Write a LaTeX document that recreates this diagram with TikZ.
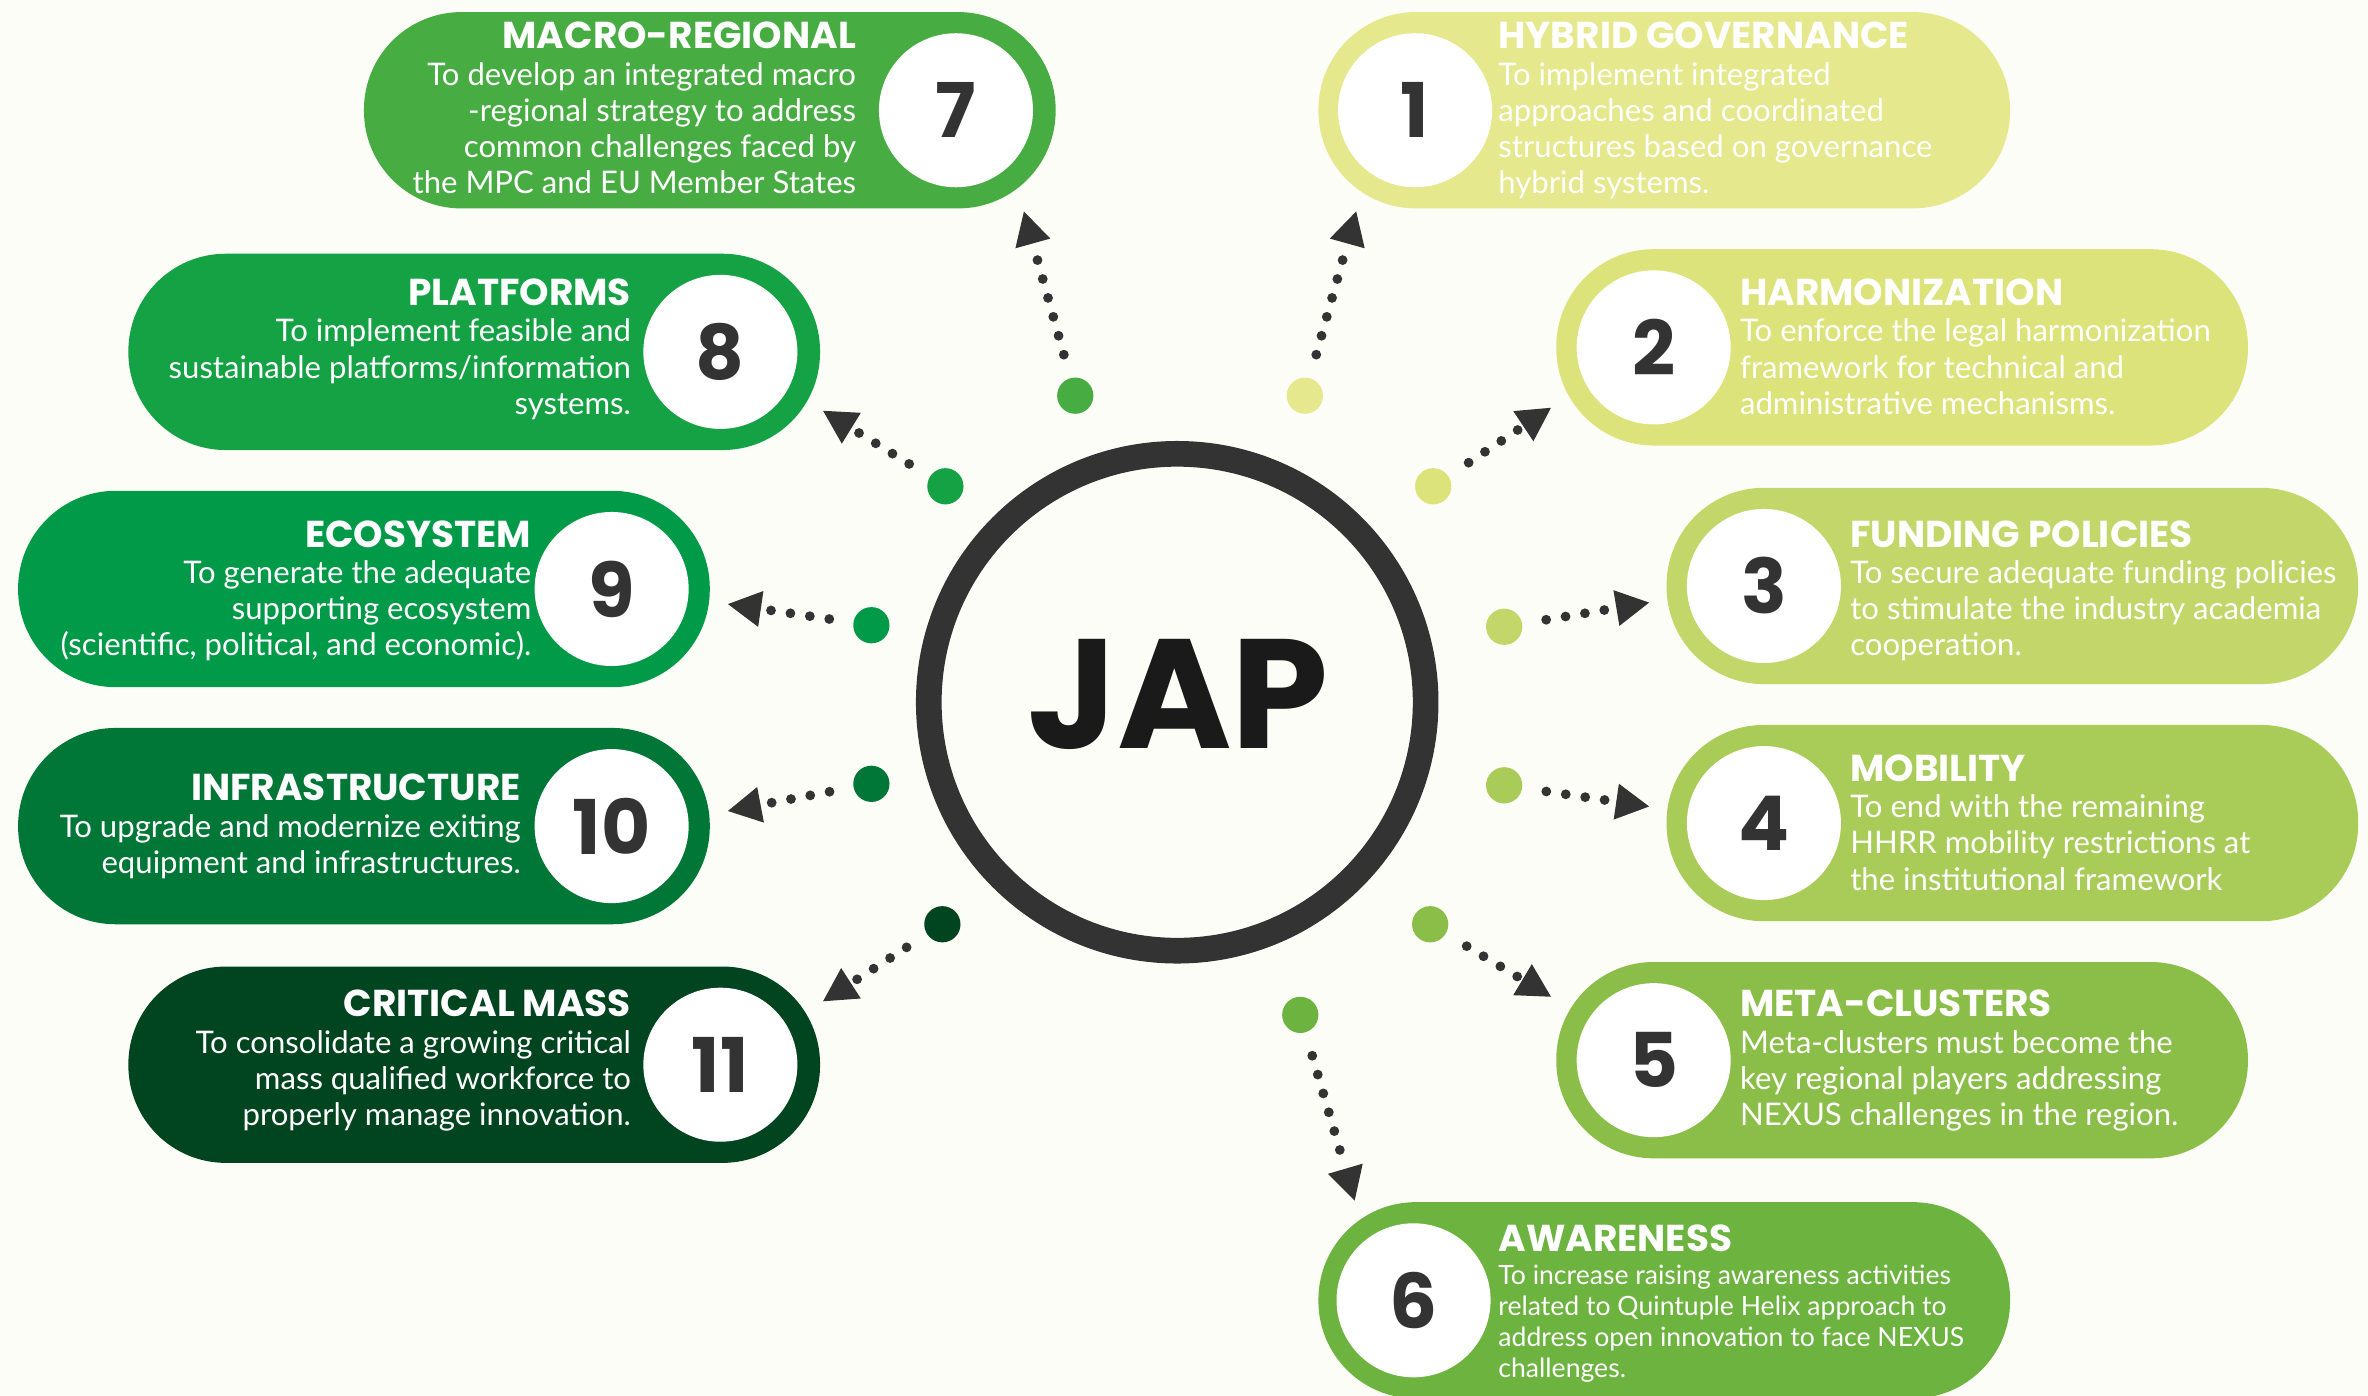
\documentclass[tikz,border=0pt]{standalone}
\usepackage{fontspec}
\setmainfont{Lato}
\newfontfamily\titlefont{Poppins}
\usetikzlibrary{arrows.meta}
\definecolor{bg}{HTML}{FDFDF8}
\definecolor{cA}{HTML}{E5E88C}
\definecolor{cB}{HTML}{DCE37A}
\definecolor{cC}{HTML}{C2D66A}
\definecolor{cD}{HTML}{A9CC58}
\definecolor{cE}{HTML}{8BBE48}
\definecolor{cF}{HTML}{6DB33F}
\definecolor{cG}{HTML}{47AD42}
\definecolor{cH}{HTML}{14A245}
\definecolor{cI}{HTML}{009A48}
\definecolor{cJ}{HTML}{007637}
\definecolor{cK}{HTML}{00451F}
\definecolor{ink}{HTML}{333333}
\definecolor{jap}{HTML}{1A1A1A}
\newcommand\ttl[1]{{\titlefont\bfseries\fontsize{24.8}{24}\selectfont #1}}
\tikzset{
  pill/.style={rectangle, rounded corners=64.5pt, minimum width=458pt, minimum height=130pt, inner sep=0pt, draw=none},
  numc/.style={circle, fill=white, minimum size=102pt, inner sep=0pt, text=ink, font=\titlefont\bfseries\fontsize{50}{50}\selectfont},
  bigdot/.style={circle, minimum size=24pt, inner sep=0pt, draw=none},
  arr/.style={draw=ink, line width=6.5pt, dash pattern=on 0pt off 13pt, line cap=round, -{Triangle[length=22pt,width=24pt,line width=0pt]}, shorten <=16pt},
  txtL/.style={anchor=north west, align=left, text=white, inner sep=0pt, font=\fontsize{20.6}{24}\selectfont},
  txtR/.style={anchor=north east, align=right, text=white, inner sep=0pt, font=\fontsize{20.6}{24}\selectfont},
}
\begin{document}
\begin{tikzpicture}[x=1pt,y=-1pt]
\fill[bg] (0,0) rectangle (1568,924);
\useasboundingbox (0,0) rectangle (1568,924);
% pills
\node[pill, fill=cG] (p7) at (470,73) {};
\node[pill, fill=cA] (p1) at (1102,73) {};
\node[pill, fill=cH] (p8) at (314,233) {};
\node[pill, fill=cB] (p2) at (1259.5,230) {};
\node[pill, fill=cI] (p9) at (241,390) {};
\node[pill, fill=cC] (p3) at (1332.5,388) {};
\node[pill, fill=cJ] (p10) at (241,547) {};
\node[pill, fill=cD] (p4) at (1332.5,545) {};
\node[pill, fill=cK] (p11) at (314,705) {};
\node[pill, fill=cE] (p5) at (1259.5,702) {};
\node[pill, fill=cF] (p6) at (1102,861) {};
% number circles
\node[numc] (n7) at (633,73) {7};
\node[numc] (n1) at (937,73) {1};
\node[numc] (n8) at (477,233) {8};
\node[numc] (n2) at (1095,230) {2};
\node[numc] (n9) at (405,390) {9};
\node[numc] (n3) at (1168,388) {3};
\node[numc] (n10) at (405,547) {10};
\node[numc] (n4) at (1168,545) {4};
\node[numc] (n11) at (477,705) {11};
\node[numc] (n5) at (1095,702) {5};
\node[numc] (n6) at (936,861) {6};
% texts
\node[txtR] (t7) at (567,14.5) {\ttl{MACRO-REGIONAL}\\To develop an integrated macro\\-regional strategy to address\\common challenges faced by\\the MPC and EU Member States};
\node[txtL] (t1) at (992,14.5) {\ttl{HYBRID GOVERNANCE}\\To implement integrated\\approaches and coordinated\\structures based on governance\\hybrid systems.};
\node[txtR] (t8) at (418,184.5) {\ttl{PLATFORMS}\\To implement feasible and\\sustainable platforms/information\\systems.};
\node[txtL] (t2) at (1152,184.5) {\ttl{HARMONIZATION}\\To enforce the legal harmonization\\framework for technical and\\administrative mechanisms.};
\node[txtR] (t9) at (352,344.5) {\ttl{ECOSYSTEM}\\To generate the adequate\\supporting ecosystem\\(scientific, political, and economic).};
\node[txtL] (t3) at (1225,344.5) {\ttl{FUNDING POLICIES}\\To secure adequate funding policies\\to stimulate the industry academia\\cooperation.};
\node[txtR] (t10) at (345,512.5) {\ttl{INFRASTRUCTURE}\\To upgrade and modernize exiting\\equipment and infrastructures.};
\node[txtL] (t4) at (1225,499.5) {\ttl{MOBILITY}\\To end with the remaining\\HHRR mobility restrictions at\\the institutional framework};
\node[txtR] (t11) at (418,655.5) {\ttl{CRITICAL MASS}\\To consolidate a growing critical\\mass qualified workforce to\\properly manage innovation.};
\node[txtL] (t5) at (1152,655.5) {\ttl{META-CLUSTERS}\\Meta-clusters must become the\\key regional players addressing\\NEXUS challenges in the region.};
\node[txtL, font=\fontsize{17.6}{20.5}\selectfont] (t6) at (992,810.5) {\ttl{AWARENESS}\\[2pt]To increase raising awareness activities\\related to Quintuple Helix approach to\\address open innovation to face NEXUS\\challenges.};
% dots
\node[bigdot, fill=cG] (d7) at (712,262) {};
\node[bigdot, fill=cA] (d1) at (864,262) {};
\node[bigdot, fill=cH] (d8) at (626,322) {};
\node[bigdot, fill=cB] (d2) at (949,322) {};
\node[bigdot, fill=cI] (d9) at (577,414) {};
\node[bigdot, fill=cC] (d3) at (996,415) {};
\node[bigdot, fill=cJ] (d10) at (577,519) {};
\node[bigdot, fill=cD] (d4) at (996,520) {};
\node[bigdot, fill=cK] (d11) at (624,612) {};
\node[bigdot, fill=cE] (d5) at (947,612) {};
\node[bigdot, fill=cF] (d6) at (861,672) {};
% arrow tips
\coordinate (a7) at (678,140);
\coordinate (a1) at (898,140);
\coordinate (a8) at (545,272);
\coordinate (a2) at (1027,270);
\coordinate (a9) at (482,400);
\coordinate (a3) at (1092,399);
\coordinate (a10) at (482,537);
\coordinate (a4) at (1092,534);
\coordinate (a11) at (545,663);
\coordinate (a5) at (1027,660);
\coordinate (a6) at (897,795);
\foreach \i in {7,1,8,2,9,3,10,4,11,5,6} {\draw[arr] (d\i) -- (a\i);}
% centre
\node[circle, draw=ink, line width=17pt, minimum size=329pt, inner sep=0pt, fill=bg] (c) at (779.5,465) {};
\node[text=jap, inner sep=0pt, font=\titlefont\bfseries\fontsize{103}{103}\selectfont] (jap) at (780,460) {JAP};
\end{tikzpicture}
\end{document}
